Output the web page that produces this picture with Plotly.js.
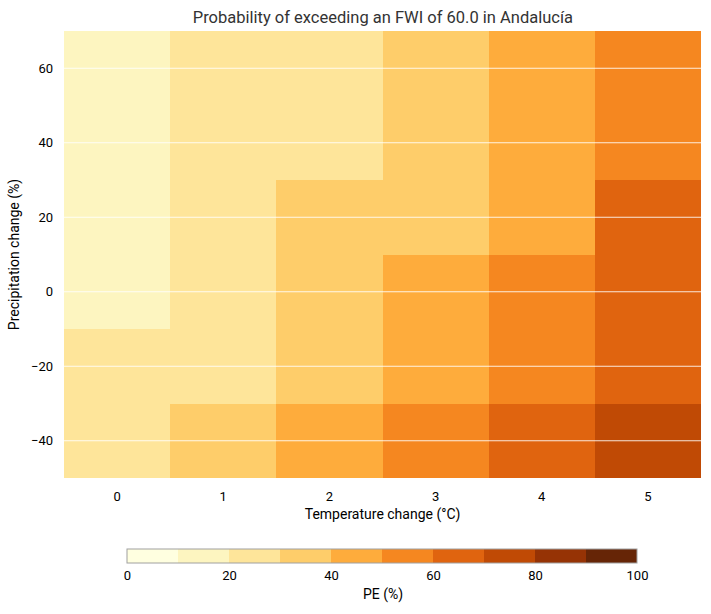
<!DOCTYPE html>
<html>
<head>
<meta charset="utf-8">
<script src="https://cdn.plot.ly/plotly-3.0.1.min.js"></script>
<style>html,body{margin:0;padding:0;background:#fff}#chart{width:711px;height:614px}</style>
</head>
<body>
<div id="chart"></div>
<script>
// Temperature change (°C)
const tempChange = [0, 1, 2, 3, 4, 5];
// Precipitation change (%)
const precipChange = [-40, -20, 0, 20, 40, 60];
// Probability of exceeding FWI 60 (%), rows follow precipChange, columns follow tempChange
const peRowM40 = [25, 35, 45, 55, 65, 75];
const peRowM20 = [25, 25, 35, 45, 55, 65];
const peRow0   = [15, 25, 35, 45, 55, 65];
const peRow20  = [15, 25, 35, 35, 45, 65];
const peRow40  = [15, 25, 25, 35, 45, 55];
const peRow60  = [15, 25, 25, 35, 45, 55];
const colorbarTicks = [0, 20, 40, 60, 80, 100];
const binColors = ['#ffffe0','#fdf5c0','#fee59a','#fecd6a','#feac3c','#f58720','#e0640f','#c04a05','#963305','#662506'];

const z = [peRowM40, peRowM20, peRow0, peRow20, peRow40, peRow60];
const colorscale = [];
binColors.forEach((c, i) => {
  colorscale.push([i / binColors.length, c]);
  colorscale.push([(i + 1) / binColors.length, c]);
});

const trace = {
  type: 'heatmap',
  x: tempChange,
  y: precipChange,
  z: z,
  zmin: 0, zmax: 100,
  colorscale: colorscale,
  hoverinfo: 'skip',
  colorbar: {
    orientation: 'h',
    x: 0.5, xanchor: 'center', xref: 'paper',
    y: -0.159, yanchor: 'top', yref: 'paper',
    len: 0.8, lenmode: 'fraction',
    thickness: 14,
    outlinecolor: '#a0a0a0', outlinewidth: 1,
    tickvals: colorbarTicks,
    ticks: '',
    ticklabelstandoff: 2,
    tickfont: {size: 13, color: '#000'},
    xpad: 0, ypad: 0
  }
};

const gridShapes = precipChange.map(v => ({
  type: 'line', xref: 'paper', yref: 'y', x0: 0, x1: 1, y0: v, y1: v,
  line: {color: 'rgba(255,255,255,0.85)', width: 1}, layer: 'above'
}));

const layout = {
  width: 711, height: 614,
  margin: {l: 64, r: 10, t: 31, b: 136},
  paper_bgcolor: '#fff', plot_bgcolor: '#fff',
  font: {family: 'Roboto, sans-serif', size: 13, color: '#000'},
  title: {text: 'Probability of exceeding an FWI of 60.0 in Andalucía', font: {size: 16.5, color: '#333'}, x: 0.5385, xanchor: 'center', y: 0.972, yanchor: 'middle'},
  xaxis: {
    title: {text: 'Temperature change (°C)', font: {size: 14}, standoff: 6},
    tickvals: tempChange, ticks: '', ticklabelstandoff: 9, showgrid: false, zeroline: false, showline: false,
    tickfont: {size: 13},
    range: [-0.5, 5.5], fixedrange: true
  },
  yaxis: {
    title: {text: 'Precipitation change (%)', font: {size: 14}, standoff: 8},
    tickvals: precipChange, ticks: '', ticklabelstandoff: 10, showgrid: false, zeroline: false, showline: false,
    tickfont: {size: 13},
    range: [-50, 70], fixedrange: true
  },
  shapes: gridShapes,
  annotations: [{
    text: 'PE (%)', xref: 'paper', yref: 'paper', x: 0.5, y: -0.26, xanchor: 'center', yanchor: 'middle',
    showarrow: false, font: {size: 14, color: '#000'}
  }]
};

Plotly.newPlot('chart', [trace], layout, {displayModeBar: false, staticPlot: true});
</script>
</body>
</html>
